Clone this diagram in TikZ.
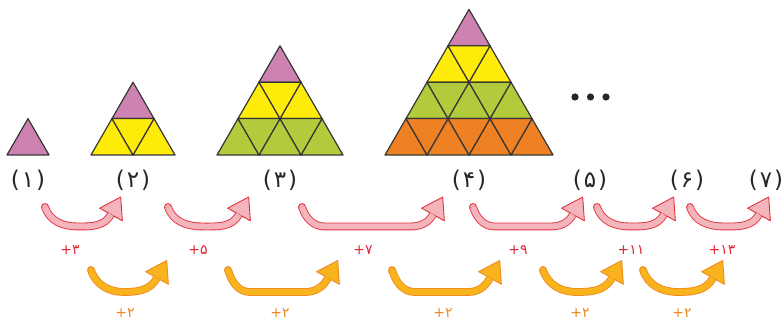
\documentclass[tikz,border=0pt]{standalone}
\usepackage{fontspec}
\usetikzlibrary{calc}
\newfontfamily\fafont{DejaVu Sans}
\definecolor{row1}{HTML}{CD82B2}
\definecolor{row2}{HTML}{FFEB0A}
\definecolor{row3}{HTML}{B1CB3C}
\definecolor{row4}{HTML}{EE8124}
\definecolor{edgec}{HTML}{363636}
\definecolor{pinkfill}{HTML}{F4B4BC}
\definecolor{redline}{HTML}{E3323E}
\definecolor{orfill}{HTML}{F9B31C}
\definecolor{orline}{HTML}{EF8A22}
\definecolor{redtext}{HTML}{E42532}
\definecolor{ortext}{HTML}{F0841F}
% curved step arrow: #1 = colour set, #2 = arrow name
\newcommand\seqarrow[2]{%
  \filldraw[#1 head] (#2s) circle (3.45);
  \filldraw[#1 head] ($(#2b)+(61:20)$) -- ($(#2b)+(-29:13)$) -- ($(#2b)+(151:13)$) -- cycle;
  \draw[#1 band] (#2s) to[out=-72,in=180] (#2l) -- (#2r) to[out=0,in=241] (#2b);}
\newcommand\stg[1]{(\kern2pt#1\kern2pt)}
\begin{document}
\begin{tikzpicture}[x=1pt,y=1pt,
  cell/.style={draw=edgec,line width=1.2pt,line join=round},
  stagelab/.style={font=\fafont\fontsize{23}{23}\selectfont,text=black!85},
  redlab/.style={font=\fafont\fontsize{14}{14}\selectfont,text=redtext},
  orlab/.style={font=\fafont\fontsize{14}{14}\selectfont,text=ortext},
  red head/.style={fill=pinkfill,draw=redline,line width=0.9pt,line join=round},
  red band/.style={draw=redline,double=pinkfill,line width=0.9pt,double distance=6pt},
  or head/.style={fill=orfill,draw=orline,line width=0.9pt,line join=round},
  or band/.style={draw=orline,double=orfill,line width=0.9pt,double distance=6pt}]
  \useasboundingbox (0,0) rectangle (784,323);
  % triangle figures
  \foreach \n/\x in {1/7,2/91,3/217,4/385}
    \foreach \k in {1,...,\n}{
      \pgfmathsetmacro\xl{\x+(\n-\k)*21}
      \pgfmathsetmacro\yb{168+(\n-\k)*36.4}
      \foreach \j in {1,...,\k}
        \filldraw[cell,fill=row\k] ({\xl+(\j-1)*42},\yb) -- ++(42,0) -- ++(-21,36.4) -- cycle;
      \ifnum\k>1
        \foreach \j in {2,...,\k}
          \filldraw[cell,fill=row\k] ({\xl+(\j-2)*42+21},{\yb+36.4}) -- ++(42,0) -- ++(-21,-36.4) -- cycle;
      \fi
    }
  \foreach \x in {575,590.5,606} \fill[black!85] (\x,226) circle (3.6);
  % stage numbers
  \node[stagelab] (n1) at (28,143) {\stg{۱}};
  \node[stagelab] (n2) at (133,143) {\stg{۲}};
  \node[stagelab] (n3) at (280,143) {\stg{۳}};
  \node[stagelab] (n4) at (469,143) {\stg{۴}};
  \node[stagelab] (n5) at (590,143) {\stg{۵}};
  \node[stagelab] (n6) at (687,143) {\stg{۶}};
  \node[stagelab] (n7) at (766,143) {\stg{۷}};
  % arrow points: start, bottom left, bottom right, head base
  \foreach \a/\sx/\lx/\rx/\bx in {r1/45/78/78/111,r2/168/203/203/239,r3/302/325/410/433,
      r4/473/495/550/573,r5/597/630/630/664,r6/690/724/724/759}{
    \coordinate (\a s) at (\sx,116); \coordinate (\a l) at (\lx,96.5);
    \coordinate (\a r) at (\rx,96.5); \coordinate (\a b) at (\bx,108.5);}
  \foreach \a/\sx/\lx/\rx/\bx in {o1/91/124/124/157,o2/228/250/305/328,o3/392/415/468/490,
      o4/543/577/577/612,o5/643/678/678/713}{
    \coordinate (\a s) at (\sx,53); \coordinate (\a l) at (\lx,31);
    \coordinate (\a r) at (\rx,31); \coordinate (\a b) at (\bx,45);}
  \foreach \a in {r1,r2,r3,r4,r5,r6} \seqarrow{red}{\a};
  \foreach \a in {o1,o2,o3,o4,o5} \seqarrow{or}{\a};
  % differences
  \node[redlab] (d1) at (70,73) {+۳};
  \node[redlab] (d2) at (198,73) {+۵};
  \node[redlab] (d3) at (363,73) {+۷};
  \node[redlab] (d4) at (518,73) {+۹};
  \node[redlab] (d5) at (631,73) {+۱۱};
  \node[redlab] (d6) at (722,73) {+۱۳};
  \foreach \x [count=\i] in {125,280,443,580,682}
    \node[orlab] (e\i) at (\x,10) {+۲};
\end{tikzpicture}
\end{document}
